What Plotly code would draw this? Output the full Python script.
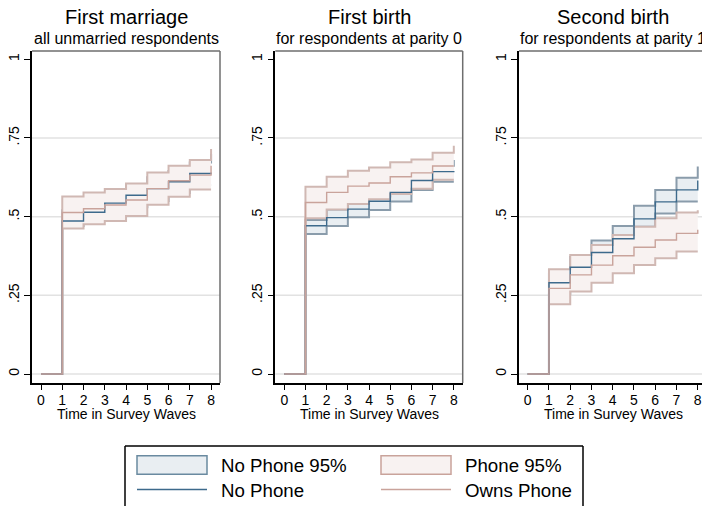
import plotly.graph_objects as go

# Survey waves (time axis)
waves = [0, 1, 2, 3, 4, 5, 6, 7, 8]

# Panel titles
titles = ["First marriage", "First birth", "Second birth"]
subtitles = ["all unmarried respondents", "for respondents at parity 0", "for respondents at parity 1"]

# First marriage: cumulative failure estimates and 95% bands
marr_nophone = [0, 0.486, 0.514, 0.543, 0.568, 0.589, 0.611, 0.637, 0.640]
marr_phone = [0, 0.513, 0.525, 0.537, 0.553, 0.589, 0.614, 0.632, 0.662]
marr_nophone_lo = [0, 0.470, 0.490, 0.510, 0.530, 0.550, 0.575, 0.600, 0.600]
marr_nophone_hi = [0, 0.520, 0.545, 0.575, 0.600, 0.625, 0.645, 0.672, 0.700]
marr_phone_lo = [0, 0.462, 0.476, 0.486, 0.502, 0.538, 0.563, 0.586, 0.586]
marr_phone_hi = [0, 0.564, 0.577, 0.588, 0.605, 0.640, 0.662, 0.680, 0.715]

# First birth
fb_nophone = [0, 0.471, 0.497, 0.524, 0.549, 0.577, 0.615, 0.643, 0.645]
fb_phone = [0, 0.545, 0.577, 0.597, 0.607, 0.627, 0.639, 0.661, 0.661]
fb_nophone_lo = [0, 0.445, 0.470, 0.498, 0.521, 0.548, 0.585, 0.611, 0.611]
fb_nophone_hi = [0, 0.489, 0.523, 0.549, 0.564, 0.597, 0.632, 0.662, 0.680]
fb_phone_lo = [0, 0.495, 0.523, 0.540, 0.555, 0.572, 0.589, 0.617, 0.617]
fb_phone_hi = [0, 0.595, 0.627, 0.646, 0.656, 0.673, 0.682, 0.703, 0.725]

# Second birth
sb_nophone = [0, 0.290, 0.339, 0.386, 0.430, 0.493, 0.547, 0.585, 0.615]
sb_phone = [0, 0.272, 0.315, 0.346, 0.376, 0.403, 0.426, 0.447, 0.458]
sb_nophone_lo = [0, 0.255, 0.300, 0.350, 0.392, 0.468, 0.510, 0.548, 0.548]
sb_nophone_hi = [0, 0.320, 0.372, 0.424, 0.470, 0.535, 0.585, 0.624, 0.659]
sb_phone_lo = [0, 0.222, 0.262, 0.290, 0.320, 0.346, 0.368, 0.389, 0.389]
sb_phone_hi = [0, 0.333, 0.378, 0.410, 0.442, 0.468, 0.495, 0.513, 0.520]

# Y axis ticks
y_ticks = [0, 0.25, 0.5, 0.75, 1]
y_ticktext = ["0", ".25", ".5", ".75", "1"]
grid_vals = [0, 0.25, 0.5, 0.75]

panels = [
    (marr_nophone, marr_phone, marr_nophone_lo, marr_nophone_hi, marr_phone_lo, marr_phone_hi),
    (fb_nophone, fb_phone, fb_nophone_lo, fb_nophone_hi, fb_phone_lo, fb_phone_hi),
    (sb_nophone, sb_phone, sb_nophone_lo, sb_nophone_hi, sb_phone_lo, sb_phone_hi),
]

# Styling
FONT = "Liberation Sans"
W, H = 702, 506
BLUE = "#3d6a8c"
PINK = "#c9a39b"
BLUE_FILL = "#e9eef2"
PINK_FILL = "#f8f2f1"
BLUE_EDGE = "#8a9cab"
PINK_EDGE = "#d0b8b3"

# Plot areas in pixels (left, right); the third runs off the page edge
x_px = [(32, 220), (275.3, 462.7), (519, 702)]
x_ranges = [[-0.4235, 8.42], [-0.4235, 8.42], [-0.41, 8.2]]
y_top, y_bot = 51, 383
y_range = [-0.0286, 1.0264]
centers = [126, 369, 613]

fig = go.Figure()
shapes = []
annotations = []


def step(x, y, xa, ya, color, width, fill=None, fillcolor=None):
    return go.Scatter(
        x=x, y=y, xaxis=xa, yaxis=ya, mode="lines",
        line=dict(color=color, width=width, shape="hv"),
        fill=fill, fillcolor=fillcolor, hoverinfo="skip", showlegend=False,
    )


for i, (nop, ph, nlo, nhi, plo, phi) in enumerate(panels):
    n = "" if i == 0 else str(i + 1)
    xa, ya = "x" + n, "y" + n
    fig.add_trace(step(waves, nlo, xa, ya, BLUE_EDGE, 2))
    fig.add_trace(step(waves, nhi, xa, ya, BLUE_EDGE, 2, "tonexty", BLUE_FILL))
    fig.add_trace(step(waves, plo, xa, ya, PINK_EDGE, 2))
    fig.add_trace(step(waves, phi, xa, ya, PINK_EDGE, 2, "tonexty", PINK_FILL))
    fig.add_trace(step(waves, nop, xa, ya, BLUE, 1.4))
    fig.add_trace(step(waves, ph, xa, ya, PINK, 1.4))

    l, r = x_px[i]
    fig.update_layout({
        "xaxis" + n: dict(
            domain=[l / W, r / W], range=x_ranges[i], anchor=ya,
            tickvals=waves, ticks="outside", ticklen=5, tickwidth=1.2, tickcolor="black",
            showline=True, linecolor="black", linewidth=1.5, showgrid=False, zeroline=False,
            tickfont=dict(family=FONT, size=14, color="black"), ticklabelstandoff=-2,
            fixedrange=True,
        ),
        "yaxis" + n: dict(
            domain=[1 - y_bot / H, 1 - y_top / H], range=y_range, anchor=xa,
            tickvals=y_ticks, ticktext=y_ticktext, tickangle=-90,
            ticks="outside", ticklen=6, tickwidth=1.2, tickcolor="black",
            showline=True, linecolor="black", linewidth=1.5, showgrid=False, zeroline=False,
            tickfont=dict(family=FONT, size=14, color="black"), fixedrange=True,
        ),
    })

    # horizontal grid
    for g in grid_vals:
        shapes.append(dict(type="line", xref=xa + " domain", yref=ya, x0=0, x1=1, y0=g, y1=g,
                           line=dict(color="#e2e2e2", width=1.5), layer="below"))
    # plot region outline (top and right)
    shapes.append(dict(type="line", xref=xa + " domain", yref=ya + " domain", x0=0, x1=1, y0=1, y1=1,
                       line=dict(color="#6e6e6e", width=1.5)))
    if i < 2:
        shapes.append(dict(type="line", xref=xa + " domain", yref=ya + " domain", x0=1, x1=1, y0=0, y1=1,
                           line=dict(color="#6e6e6e", width=1.5)))

    # titles
    annotations.append(dict(text=titles[i], x=centers[i] / W, y=1 - 16.5 / H, xref="paper", yref="paper",
                            xanchor="center", yanchor="middle", showarrow=False,
                            font=dict(family=FONT, size=20, color="black")))
    annotations.append(dict(text=subtitles[i], x=centers[i] / W, y=1 - 38.5 / H, xref="paper", yref="paper",
                            xanchor="center", yanchor="middle", showarrow=False,
                            font=dict(family=FONT, size=16, color="black")))
    annotations.append(dict(text="Time in Survey Waves", x=centers[i] / W, y=1 - 414 / H, xref="paper", yref="paper",
                            xanchor="center", yanchor="middle", showarrow=False,
                            font=dict(family=FONT, size=14, color="black")))


def px(x, y):
    return x / W, 1 - y / H


# Legend box
lx0, lx1, ly0 = 125, 583, 446
for (a, b) in [((lx0, ly0), (lx1, ly0)), ((lx0, ly0), (lx0, H)), ((lx1, ly0), (lx1, H))]:
    (xa_, ya_), (xb_, yb_) = px(*a), px(*b)
    shapes.append(dict(type="line", xref="paper", yref="paper", x0=xa_, y0=ya_, x1=xb_, y1=yb_,
                       line=dict(color="black", width=1.5)))

legend_items = [
    ("No Phone 95%", "rect", BLUE_FILL, "#6a8aa0", 137, 465),
    ("Phone 95%", "rect", PINK_FILL, "#c9a39b", 381, 465),
    ("No Phone", "line", None, BLUE, 137, 490),
    ("Owns Phone", "line", None, PINK, 381, 490),
]
for label, kind, fillc, linec, x0, yc in legend_items:
    if kind == "rect":
        a0, b0 = px(x0, yc - 9.3)
        a1, b1 = px(x0 + 70, yc + 9.3)
        shapes.append(dict(type="rect", xref="paper", yref="paper", x0=a0, y0=b1, x1=a1, y1=b0,
                           fillcolor=fillc, line=dict(color=linec, width=1.5)))
    else:
        a0, b0 = px(x0, yc - 0.5)
        a1, _ = px(x0 + 70, yc - 0.5)
        shapes.append(dict(type="line", xref="paper", yref="paper", x0=a0, y0=b0, x1=a1, y1=b0,
                           line=dict(color=linec, width=1.5)))
    tx, ty = px(x0 + 82, yc)
    annotations.append(dict(text=label, x=tx, y=ty, xref="paper", yref="paper", xanchor="left",
                            yanchor="middle", showarrow=False,
                            font=dict(family=FONT, size=18.7, color="black")))

fig.update_layout(
    width=W, height=H, margin=dict(l=0, r=0, t=0, b=0),
    paper_bgcolor="white", plot_bgcolor="white",
    shapes=shapes, annotations=annotations, showlegend=False,
    font=dict(family=FONT),
)

fig.write_html("out.html", config={"displayModeBar": False})
